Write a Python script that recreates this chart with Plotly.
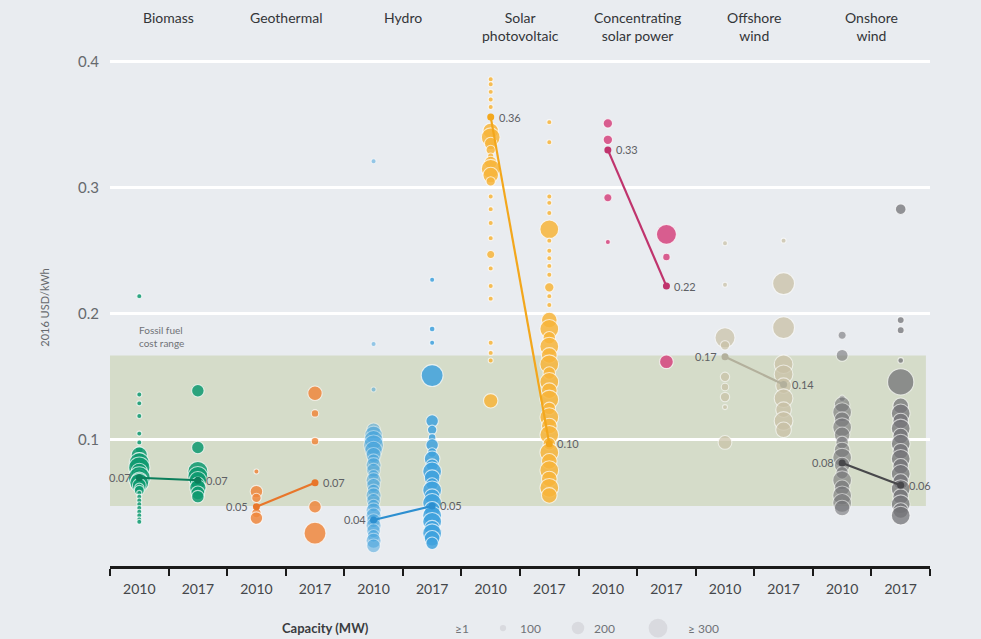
import plotly.graph_objects as go

# ---------------- data ----------------
technologies = ["Biomass", "Geothermal", "Hydro", "Solar<br>photovoltaic",
                "Concentrating<br>solar power", "Offshore<br>wind", "Onshore<br>wind"]
years = ["2010", "2017"]
tech_colors = ["#0e9a70", "#f0883e", "#3fa2de", "#f8b53a", "#d6457f", "#c9c1a6", "#737377"]
avg_colors = ["#0b7e5b", "#e8762a", "#2d8fd0", "#f3a71c", "#c0346d", "#b3b09c", "#48484b"]

# project LCOE (2016 USD/kWh) and capacity (MW) per technology and year
biomass_2010_lcoe = [0.214, 0.136, 0.129, 0.119, 0.105, 0.098, 0.092, 0.088, 0.085, 0.082, 0.078, 0.075,
                     0.072, 0.070, 0.068, 0.066, 0.064, 0.062, 0.060, 0.058, 0.055, 0.052, 0.049, 0.046,
                     0.043, 0.040, 0.037, 0.035]
biomass_2010_mw = [1, 20, 20, 70, 10, 20, 120, 260, 200, 320, 340, 260, 200, 350, 260, 300, 220, 150, 160,
                   80, 40, 30, 20, 20, 30, 20, 20, 40]
biomass_2017_lcoe = [0.139, 0.094, 0.075, 0.071, 0.068, 0.065, 0.062, 0.058, 0.055]
biomass_2017_mw = [200, 200, 320, 320, 280, 220, 260, 220, 200]

geothermal_2010_lcoe = [0.075, 0.059, 0.054, 0.047, 0.042, 0.038]
geothermal_2010_mw = [30, 200, 150, 100, 150, 200]
geothermal_2017_lcoe = [0.137, 0.121, 0.099, 0.047, 0.026]
geothermal_2017_mw = [230, 120, 120, 200, 350]

hydro_2010_lcoe = [0.321, 0.176, 0.140, 0.108, 0.104, 0.100, 0.096, 0.092, 0.088, 0.084, 0.080, 0.076,
                   0.072, 0.068, 0.064, 0.060, 0.056, 0.052, 0.048, 0.044, 0.040, 0.036, 0.032, 0.028,
                   0.024, 0.020, 0.016]
hydro_2010_mw = [70, 25, 3, 220, 280, 300, 320, 280, 240, 200, 240, 220, 180, 240, 220, 200, 240, 220,
                 200, 240, 240, 220, 240, 220, 200, 240, 220]
hydro_2017_lcoe = [0.227, 0.188, 0.177, 0.151, 0.115, 0.108, 0.102, 0.096, 0.090, 0.085, 0.080, 0.075,
                   0.070, 0.065, 0.060, 0.055, 0.050, 0.045, 0.040, 0.035, 0.030, 0.026, 0.022, 0.018]
hydro_2017_mw = [70, 90, 5, 350, 200, 150, 120, 200, 150, 250, 200, 300, 250, 200, 300, 250, 300, 250,
                 300, 300, 250, 300, 250, 200]

solar_pv_2010_lcoe = [0.386, 0.382, 0.376, 0.370, 0.364, 0.345, 0.340, 0.335, 0.330, 0.325, 0.320, 0.315,
                      0.310, 0.305, 0.293, 0.283, 0.272, 0.260, 0.247, 0.236, 0.222, 0.212, 0.177, 0.169,
                      0.163, 0.131]
solar_pv_2010_mw = [3, 3, 5, 3, 5, 250, 300, 200, 150, 100, 200, 300, 250, 150, 5, 3, 5, 3, 130, 5, 3, 5,
                    3, 5, 3, 230]
solar_pv_2017_lcoe = [0.352, 0.336, 0.293, 0.288, 0.280, 0.267, 0.258, 0.250, 0.244, 0.238, 0.231, 0.221,
                      0.214, 0.207, 0.195, 0.188, 0.181, 0.174, 0.167, 0.160, 0.153, 0.146, 0.139, 0.132,
                      0.125, 0.118, 0.111, 0.104, 0.097, 0.090, 0.083, 0.076, 0.069, 0.062, 0.056]
solar_pv_2017_mw = [10, 10, 3, 3, 10, 300, 80, 20, 40, 20, 60, 150, 40, 20, 250, 300, 200, 300, 250, 300,
                    200, 300, 250, 300, 200, 300, 250, 300, 200, 300, 250, 300, 250, 300, 250]

csp_2010_lcoe = [0.351, 0.338, 0.292, 0.257]
csp_2010_mw = [150, 150, 130, 5]
csp_2017_lcoe = [0.263, 0.245, 0.162]
csp_2017_mw = [320, 120, 220]

offshore_2010_lcoe = [0.256, 0.223, 0.181, 0.175, 0.150, 0.142, 0.134, 0.126, 0.098]
offshore_2010_mw = [60, 5, 320, 150, 150, 120, 150, 5, 220]
offshore_2017_lcoe = [0.258, 0.224, 0.189, 0.160, 0.152, 0.143, 0.133, 0.124, 0.115, 0.108]
offshore_2017_mw = [3, 350, 350, 300, 300, 250, 300, 250, 300, 250]

onshore_2010_lcoe = [0.183, 0.167, 0.133, 0.128, 0.122, 0.116, 0.110, 0.104, 0.098, 0.092, 0.086, 0.080,
                     0.074, 0.068, 0.062, 0.056, 0.050, 0.046]
onshore_2010_mw = [130, 190, 100, 250, 300, 250, 300, 250, 200, 250, 300, 250, 200, 300, 250, 300, 300, 250]
onshore_2017_lcoe = [0.283, 0.195, 0.187, 0.163, 0.146, 0.127, 0.121, 0.115, 0.109, 0.103, 0.097, 0.091,
                     0.085, 0.079, 0.073, 0.067, 0.061, 0.055, 0.049, 0.044, 0.040]
onshore_2017_mw = [170, 110, 110, 90, 420, 250, 300, 250, 300, 250, 300, 250, 300, 250, 300, 250, 300, 250,
                   300, 250, 300]

# capacity-weighted averages
avg_2010 = [0.070, 0.047, 0.0365, 0.356, 0.330, 0.166, 0.0817]
avg_2017 = [0.068, 0.066, 0.0476, 0.097, 0.222, 0.144, 0.064]

fossil_low, fossil_high = 0.0476, 0.167
y_ticks = [0.1, 0.2, 0.3, 0.4]
y_ticktext = ["0.1", "0.2", "0.3", "0.4"]
legend_mw = [1, 100, 200, 300]
legend_text = ["≥1", "100", "200", "≥ 300"]

series = [
    (biomass_2010_lcoe, biomass_2010_mw, biomass_2017_lcoe, biomass_2017_mw),
    (geothermal_2010_lcoe, geothermal_2010_mw, geothermal_2017_lcoe, geothermal_2017_mw),
    (hydro_2010_lcoe, hydro_2010_mw, hydro_2017_lcoe, hydro_2017_mw),
    (solar_pv_2010_lcoe, solar_pv_2010_mw, solar_pv_2017_lcoe, solar_pv_2017_mw),
    (csp_2010_lcoe, csp_2010_mw, csp_2017_lcoe, csp_2017_mw),
    (offshore_2010_lcoe, offshore_2010_mw, offshore_2017_lcoe, offshore_2017_mw),
    (onshore_2010_lcoe, onshore_2010_mw, onshore_2017_lcoe, onshore_2017_mw),
]

# ---------------- figure ----------------
FONT = "Lato, 'Open Sans', sans-serif"
BG = "#e9ecf0"
SIZEREF = 16.0  # MW per pixel of diameter

categories = []
for t in technologies:
    for yv in years:
        categories.append(f"{t}|{yv}")

fig = go.Figure()

opac = {("Hydro", "2010"): 0.5, ("Offshore<br>wind", "2010"): 0.7, ("Offshore<br>wind", "2017"): 0.75,
        ("Onshore<br>wind", "2010"): 0.6, ("Onshore<br>wind", "2017"): 0.75}

for i, t in enumerate(technologies):
    l10, m10, l17, m17 = series[i]
    for yv, lv, mv in (("2010", l10, m10), ("2017", l17, m17)):
        fig.add_trace(go.Scatter(
            x=[f"{t}|{yv}"] * len(lv), y=lv, mode="markers",
            marker=dict(size=mv, sizemode="diameter", sizeref=SIZEREF, sizemin=2.5,
                        color=tech_colors[i], opacity=opac.get((t, yv), 0.85),
                        line=dict(color="rgba(255,255,255,0.8)", width=1.1)),
            hoverinfo="skip", showlegend=False))

for i, t in enumerate(technologies):
    fig.add_trace(go.Scatter(
        x=[f"{t}|2010", f"{t}|2017"], y=[avg_2010[i], avg_2017[i]],
        mode="lines+markers",
        line=dict(color=avg_colors[i], width=2.2),
        marker=dict(size=7, color=avg_colors[i]),
        hoverinfo="skip", showlegend=False))

# average labels
left_first = {0, 1, 2, 5, 6}
for i, t in enumerate(technologies):
    for yv, val in (("2010", avg_2010[i]), ("2017", avg_2017[i])):
        if yv == "2010" and i in left_first:
            xa, xs = "right", -6
        else:
            xa, xs = "left", 6
        fig.add_annotation(x=f"{t}|{yv}", y=val, text=f"{val:.2f}", showarrow=False,
                           xanchor=xa, xshift=xs, yanchor="middle",
                           font=dict(family=FONT, size=11, color="#5e6064"))

# technology headings
for i, t in enumerate(technologies):
    fig.add_annotation(x=2 * i + 0.5, y=1.082, xref="x", yref="paper", text=t, showarrow=False,
                       xanchor="center", yanchor="top", align="center",
                       font=dict(family=FONT, size=14, color="#333538"))

# fossil fuel range
fig.add_shape(type="rect", xref="paper", yref="y", x0=0, x1=0.995, y0=fossil_low, y1=fossil_high,
              fillcolor="#d5dcc9", line=dict(width=0), layer="below")
fig.add_annotation(x=0.033, xref="paper", y=0.182, yref="y", text="Fossil fuel<br>cost range",
                   showarrow=False, xanchor="left", yanchor="middle", align="left",
                   font=dict(family=FONT, size=10, color="#6f7276"))

# capacity legend (paper coords below plot)
leg_y = -0.12
fig.add_annotation(x=(325 - 110) / 820, y=leg_y, xref="paper", yref="paper", text="<b>Capacity (MW)</b>",
                   showarrow=False, xanchor="center", yanchor="middle",
                   font=dict(family=FONT, size=13, color="#3a3c40"))
leg_circle_x = [452, 503, 578, 658]
leg_text_x = [462, 530, 604, 703]
for k, mw in enumerate(legend_mw):
    r = mw / SIZEREF / 2
    if mw > 1:
        cx = (leg_circle_x[k] - 110) / 820
        fig.add_shape(type="circle", xref="paper", yref="paper", xsizemode="pixel", ysizemode="pixel",
                      xanchor=cx, yanchor=leg_y, x0=-r, x1=r, y0=-r, y1=r,
                      fillcolor="#d9dadf", line=dict(width=0))
    fig.add_annotation(x=(leg_text_x[k] - 110) / 820, y=leg_y, xref="paper", yref="paper",
                       text=legend_text[k], showarrow=False, xanchor="center", yanchor="middle",
                       font=dict(family=FONT, size=12, color="#707378"))

fig.update_layout(
    width=981, height=639,
    margin=dict(l=110, r=51, t=49, b=73),
    paper_bgcolor=BG, plot_bgcolor=BG,
    font=dict(family=FONT),
    showlegend=False,
    xaxis=dict(type="category", categoryorder="array", categoryarray=categories,
               tickvals=categories, ticktext=[c.split("|")[1] for c in categories],
               tickson="boundaries", ticks="outside", ticklen=7, tickwidth=2, tickcolor="#1a1a1a",
               showline=True, linecolor="#1a1a1a", linewidth=2.5, showgrid=False,
               ticklabelstandoff=8,
               tickfont=dict(family=FONT, size=14, color="#444649"),
               range=[-0.5, 13.5], fixedrange=True),
    yaxis=dict(range=[0, 0.41], tickvals=y_ticks, ticktext=y_ticktext,
               showgrid=True, gridcolor="#ffffff", gridwidth=2.5, zeroline=False, showline=False,
               ticks="", ticklabelstandoff=10,
               tickfont=dict(family=FONT, size=15, color="#66696d"),
               title=dict(text="2016 USD/kWh", standoff=26,
                          font=dict(family=FONT, size=11, color="#66696d"))),
)

fig.write_html("out.html", config={"displayModeBar": False},
               post_script="document.body.style.margin='0';document.body.style.overflow='hidden';"
                           "document.body.style.background='" + BG + "';")
